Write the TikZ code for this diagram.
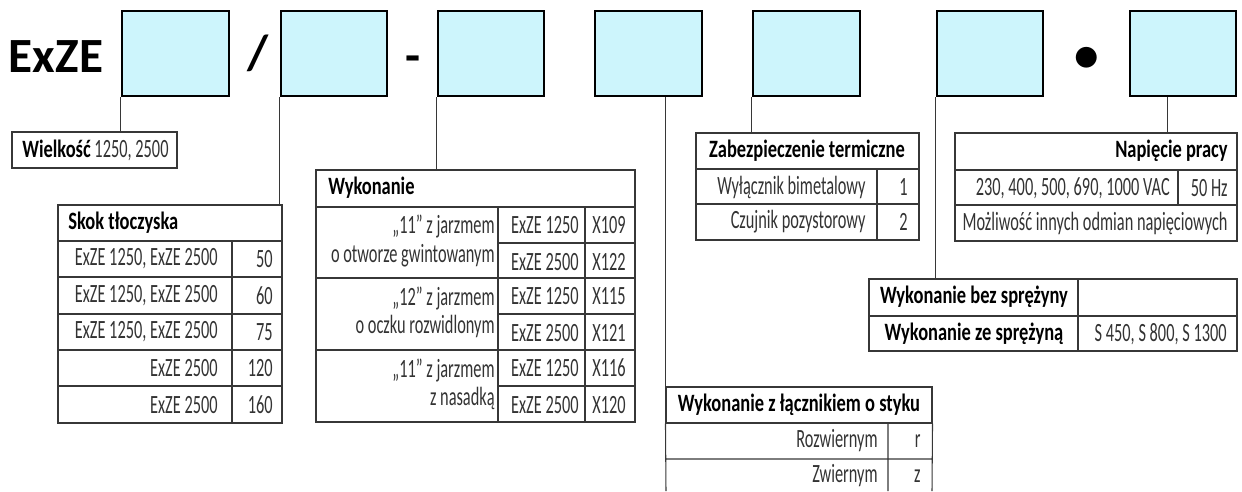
\documentclass[tikz,border=0pt]{standalone}
\usepackage{fontspec}
\setmainfont{Carlito}
\newfontfamily\condfont[FakeStretch=0.62]{Carlito}
\newfontfamily\headfont[FakeStretch=0.74]{Carlito}
\usetikzlibrary{fit}
\definecolor{slotcyan}{RGB}{205,245,252}
\definecolor{gridgray}{RGB}{55,55,55}

\begin{document}
\begin{tikzpicture}[
    x=0.02cm, y=-0.02cm,
    slot/.style={rectangle, draw=black, fill=slotcyan, line width=1.4pt, inner sep=0pt},
    frame/.style={rectangle, draw=gridgray, line width=0.6pt, inner sep=0pt},
    tabline/.style={draw=gridgray, line width=0.6pt},
    link/.style={draw=gridgray, line width=0.6pt},
    head/.style={font=\headfont\bfseries\fontsize{14.2}{16}\selectfont, inner sep=0pt},
    val/.style={font=\condfont\fontsize{15}{16}\selectfont, text=black!80, inner sep=0pt},
    sign/.style={font=\bfseries\fontsize{28}{32}\selectfont, inner sep=0pt}
]
\useasboundingbox (0,0) rectangle (1242,491);

% code row
\node[sign] (title) at (56,57) {ExZE};
\node[slot, fit={(122,11) (229,96)}] (b1) {};
\node[sign] (slash) at (258,53) {/};
\node[slot, fit={(281,11) (387,96)}] (b2) {};
\node[sign] (dash) at (413,64) {-};
\node[slot, fit={(438,11) (544,96)}] (b3) {};
\node[slot, fit={(595,11) (702,96)}] (b4) {};
\node[slot, fit={(753,11) (860,96)}] (b5) {};
\node[slot, fit={(937,11) (1043,96)}] (b6) {};
\node[sign] (dot) at (1087,59) {•};
\node[slot, fit={(1130,11) (1236,96)}] (b7) {};

% size
\node[frame, fit={(12,132) (177,168)}] (wielk) {};
\node[val, anchor=west] (wielkt) at (22,150) {{\headfont\bfseries\fontsize{14.2}{16}\selectfont\color{black}Wielkość} 1250, 2500};
\draw[link] (b1.south west) -- (b1.south west |- wielk.north);

% stroke
\node[frame, fit={(58,205) (282,423)}] (skok) {};
\draw[tabline] (58,241) -- (282,241) (58,277) -- (282,277) (58,314) -- (282,314)
    (58,350) -- (282,350) (58,386) -- (282,386) (232,241) -- (232,423);
\node[head, anchor=west] (skokh) at (68,223) {Skok tłoczyska};
\node[val, anchor=east] (skok1) at (218,259) {ExZE 1250, ExZE 2500};
\node[val, anchor=east] (skok1v) at (273,259) {50};
\node[val, anchor=east] (skok2) at (218,296) {ExZE 1250, ExZE 2500};
\node[val, anchor=east] (skok2v) at (273,296) {60};
\node[val, anchor=east] (skok3) at (218,332) {ExZE 1250, ExZE 2500};
\node[val, anchor=east] (skok3v) at (273,332) {75};
\node[val, anchor=east] (skok4) at (218,368) {ExZE 2500};
\node[val, anchor=east] (skok4v) at (273,368) {120};
\node[val, anchor=east] (skok5) at (218,405) {ExZE 2500};
\node[val, anchor=east] (skok5v) at (273,405) {160};
\draw[link] (b2.south west) -- (b2.south west |- skok.north);

% version
\node[frame, fit={(316,170) (635,422)}] (wyk) {};
\draw[tabline] (316,207) -- (635,207) (316,278) -- (635,278) (316,350) -- (635,350)
    (498,243) -- (635,243) (498,314) -- (635,314) (498,386) -- (635,386)
    (498,207) -- (498,422) (585,207) -- (585,422);
\node[head, anchor=west] (wykh) at (328,188) {Wykonanie};
\node[val, anchor=east, align=right] (wyk1) at (495,241) {„11” z jarzmem\\o otworze gwintowanym};
\node[val, anchor=east, align=right] (wyk2) at (495,312) {„12” z jarzmem\\o oczku rozwidlonym};
\node[val, anchor=east, align=right] (wyk3) at (495,384) {„11” z jarzmem\\z nasadką};
\node[val, anchor=east] (wyk1a) at (579,225) {ExZE 1250};
\node[val, anchor=east] (wyk1b) at (579,262) {ExZE 2500};
\node[val, anchor=east] (wyk2a) at (579,296) {ExZE 1250};
\node[val, anchor=east] (wyk2b) at (579,333) {ExZE 2500};
\node[val, anchor=east] (wyk3a) at (579,368) {ExZE 1250};
\node[val, anchor=east] (wyk3b) at (579,405) {ExZE 2500};
\node[val, anchor=east] (wyk1x) at (626,225) {X109};
\node[val, anchor=east] (wyk1y) at (626,262) {X122};
\node[val, anchor=east] (wyk2x) at (626,296) {X115};
\node[val, anchor=east] (wyk2y) at (626,333) {X121};
\node[val, anchor=east] (wyk3x) at (626,368) {X116};
\node[val, anchor=east] (wyk3y) at (626,405) {X120};
\draw[link] (b3.south west) -- (b3.south west |- wyk.north);

% contact
\node[frame, fit={(666,387) (932,423)}] (lacz) {};
\draw[tabline] (lacz.south west) -- (666,491) (lacz.south east) -- (932,491)
    (666,459) -- (932,459) (888,423) -- (888,491);
\node[head] (laczh) at (lacz.center) {Wykonanie z łącznikiem o styku};
\node[val, anchor=east] (lacz1) at (878,441) {Rozwiernym};
\node[val, anchor=east] (lacz1v) at (921,441) {r};
\node[val, anchor=east] (lacz2) at (878,476) {Zwiernym};
\node[val, anchor=east] (lacz2v) at (921,476) {z};
\draw[link] (b4.south -| lacz.west) -- (lacz.north west);

% thermal
\node[frame, fit={(696,133) (919,240)}] (term) {};
\draw[tabline] (696,169) -- (919,169) (696,204) -- (919,204) (877,169) -- (877,240);
\node[head] (termh) at (807,151) {Zabezpieczenie termiczne};
\node[val, anchor=east] (term1) at (866,187) {Wyłącznik bimetalowy};
\node[val, anchor=east] (term1v) at (908,187) {1};
\node[val, anchor=east] (term2) at (866,222) {Czujnik pozystorowy};
\node[val, anchor=east] (term2v) at (908,222) {2};
\draw[link] (b5.south west) -- (b5.south west |- term.north);

% spring
\node[frame, fit={(869,279) (1237,351)}] (spr) {};
\draw[tabline] (869,316) -- (1237,316) (1078,279) -- (1078,351);
\node[head] (spr1) at (974,297) {Wykonanie bez sprężyny};
\node[head] (spr2) at (974,334) {Wykonanie ze sprężyną};
\node[val, anchor=east] (spr2v) at (1227,334) {S 450, S 800, S 1300};
\draw[link] (b6.south west) -- (b6.south west |- spr.north);

% voltage
\node[frame, fit={(955,133) (1237,241)}] (nap) {};
\draw[tabline] (955,170) -- (1237,170) (955,205) -- (1237,205) (1178,170) -- (1178,205);
\node[head, anchor=east] (naph) at (1228,151) {Napięcie pracy};
\node[val, anchor=east] (nap1) at (1170,188) {230, 400, 500, 690, 1000 VAC};
\node[val, anchor=east] (nap1v) at (1228,188) {50 Hz};
\node[val, anchor=east] (nap2) at (1228,223) {Możliwość innych odmian napięciowych};
\coordinate (b7foot) at ([xshift=0.78cm]b7.south west);
\draw[link] (b7foot) -- (b7foot |- nap.north);

\end{tikzpicture}
\end{document}
